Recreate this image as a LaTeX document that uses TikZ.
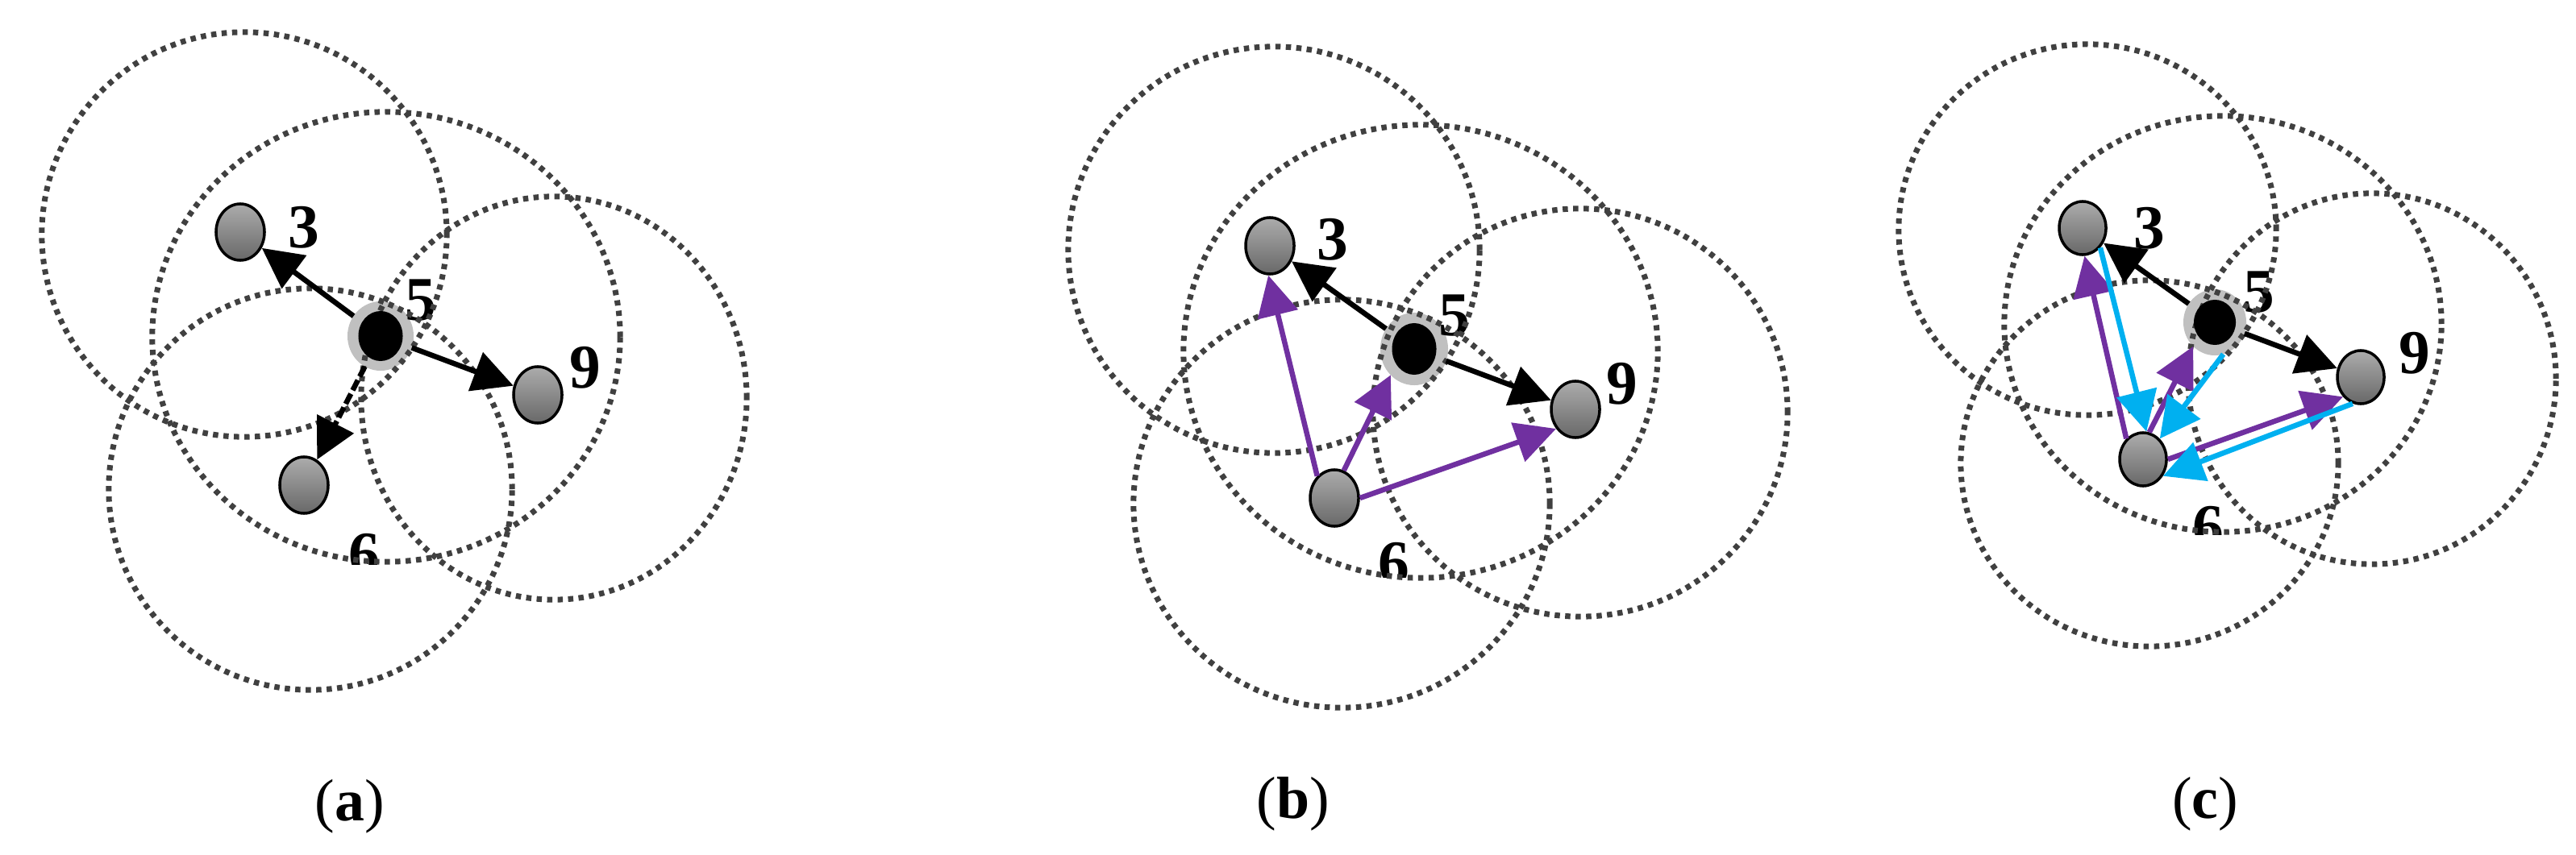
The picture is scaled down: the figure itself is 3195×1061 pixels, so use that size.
\documentclass[tikz,border=0pt]{standalone}
\usepackage{fontspec}
\setmainfont{Liberation Serif}
\usetikzlibrary{shapes,arrows.meta}
\definecolor{ringgray}{RGB}{64,64,64}
\definecolor{halogray}{RGB}{192,192,192}
\definecolor{askpurple}{RGB}{112,48,160}
\definecolor{replycyan}{RGB}{0,176,240}
\definecolor{nodetop}{RGB}{172,172,172}
\definecolor{nodebot}{RGB}{104,104,104}

\begin{document}
\begin{tikzpicture}[x=0.01cm,y=-0.01cm,>={Triangle[length=0.5cm,width=0.5cm]}]
	\tikzstyle{ring}=[draw=ringgray,line width=0.07cm,dash pattern=on 0.065cm off 0.065cm]
	\tikzstyle{sensor}=[ellipse,draw=black,line width=0.035cm,top color=nodetop,bottom color=nodebot,minimum width=0.6cm,minimum height=0.7cm,inner sep=0pt]
	\tikzstyle{halo}=[ellipse,fill=halogray,minimum width=0.82cm,minimum height=0.86cm,inner sep=0pt,outer sep=0pt]
	\tikzstyle{core}=[ellipse,fill=black,minimum width=0.55cm,minimum height=0.62cm,inner sep=0pt]
	\tikzstyle{num}=[font=\fontsize{22}{26}\selectfont\bfseries,inner sep=0pt]
	\tikzstyle{caption}=[font=\fontsize{21}{25}\selectfont,inner sep=0pt]
	\tikzstyle{link}=[->,line width=0.065cm]
	\tikzstyle{probe}=[link,dash pattern=on 0.14cm off 0.05cm]
	\tikzstyle{ask}=[link,askpurple]
	\tikzstyle{answer}=[link,replycyan]

	\useasboundingbox (0,0) rectangle (3195,1061);

	\node[halo] (a5) at (472,417) {};
	\node[num] (a3l) at (377,282) {3};
	\node[num] (a5l) at (522,373) {5};
	\node[num] (a9l) at (726,456) {9};
	\begin{scope}
		\clip (400,640) rectangle (500,700);
		\node[num] (a6l) at (452,688) {6};
	\end{scope}
	\draw[ring] (303,291) ellipse [x radius=2.51cm,y radius=2.51cm];
	\draw[ring] (479,418) ellipse [x radius=2.90cm,y radius=2.79cm];
	\draw[ring] (687,494) ellipse [x radius=2.39cm,y radius=2.50cm];
	\draw[ring] (385,607) ellipse [x radius=2.50cm,y radius=2.49cm];
	\node[sensor] (a3) at (298,288) {};
	\node[sensor] (a9) at (667,490) {};
	\node[sensor] (a6) at (377,602) {};
	\node[core] (a5c) at (472,417) {};
	\draw[link] (a5) -- (a3);
	\draw[link] (a5) -- (a9);
	\draw[probe] (a5) -- (a6);
	\node[caption] (capa) at (434,1001) {(\textbf{a})};

	\node[halo,minimum width=0.84cm,minimum height=0.9cm] (b5) at (1754,433) {};
	\node[num] (b3l) at (1653,297) {3};
	\node[num] (b5l) at (1804,392) {5};
	\node[num] (b9l) at (2012,476) {9};
	\begin{scope}
		\clip (1680,650) rectangle (1780,716);
		\node[num] (b6l) at (1729,699) {6};
	\end{scope}
	\draw[ring] (1580,310) ellipse [x radius=2.55cm,y radius=2.52cm];
	\draw[ring] (1762,436) ellipse [x radius=2.94cm,y radius=2.81cm];
	\draw[ring] (1960,512) ellipse [x radius=2.57cm,y radius=2.53cm];
	\draw[ring] (1664,625) ellipse [x radius=2.58cm,y radius=2.53cm];
	\node[sensor] (b3) at (1575,305) {};
	\node[sensor] (b9) at (1954,508) {};
	\node[sensor] (b6) at (1655,618) {};
	\node[core,minimum height=0.64cm] (b5c) at (1754,433) {};
	\draw[link] (b5) -- (b3);
	\draw[link] (b5) -- (b9);
	\draw[ask] (b6.128) -- (b3.267);
	\draw[ask] (b6.71) -- (b5.228);
	\draw[ask] (b6.0) -- (b9.225);
	\node[caption] (capb) at (1604,998) {(\textbf{b})};

	\node[halo,minimum width=0.78cm,minimum height=0.82cm] (c5) at (2747,400) {};
	\node[num] (c3l) at (2666,283) {3};
	\node[num] (c5l) at (2802,363) {5};
	\node[num] (c9l) at (2995,438) {9};
	\begin{scope}
		\clip (2690,600) rectangle (2790,663);
		\node[num] (c6l) at (2739,654) {6};
	\end{scope}
	\draw[ring] (2589,285) ellipse [x radius=2.34cm,y radius=2.30cm];
	\draw[ring] (2757,402) ellipse [x radius=2.71cm,y radius=2.58cm];
	\draw[ring] (2942,470) ellipse [x radius=2.28cm,y radius=2.30cm];
	\draw[ring] (2666,575) ellipse [x radius=2.34cm,y radius=2.27cm];
	\node[sensor,minimum width=0.58cm,minimum height=0.66cm] (c3) at (2583,283) {};
	\node[sensor,minimum width=0.58cm,minimum height=0.66cm] (c9) at (2928,468) {};
	\node[sensor,minimum width=0.58cm,minimum height=0.66cm] (c6) at (2658,570) {};
	\node[core,minimum width=0.52cm,minimum height=0.56cm] (c5c) at (2747,400) {};
	\draw[link] (c5) -- (c3);
	\draw[link] (c5) -- (c9);
	\draw[ask] (c6.129) -- (c3.274);
	\draw[ask] (c6.77) -- (c5.228);
	\draw[ask] (c6.0) -- (c9.228);
	\draw[answer] (c3.312) -- (c6.83);
	\draw[answer] (c5.285) -- (c6.51);
	\draw[answer] (c9.253) -- (c6.320);
	\node[caption] (capc) at (2735,998) {(\textbf{c})};
\end{tikzpicture}
\end{document}
